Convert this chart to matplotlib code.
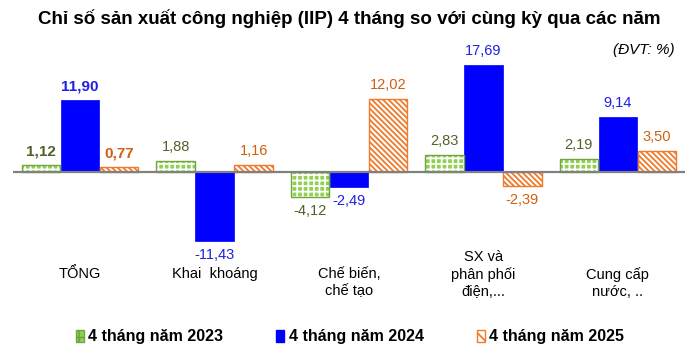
import matplotlib
matplotlib.use("Agg")
import matplotlib.pyplot as plt
from matplotlib.patches import Patch
from matplotlib import transforms
import numpy as np

# ---- data ----
categories = ["TỔNG", "Khai  khoáng", "Chế biến,\nchế tạo", "SX và\nphân phối\nđiện,...", "Cung cấp\nnước, .."]
series_names = ["4 tháng năm 2023", "4 tháng năm 2024", "4 tháng năm 2025"]
v2023 = [1.12, 1.88, -4.12, 2.83, 2.19]
v2024 = [11.90, -11.43, -2.49, 17.69, 9.14]
v2025 = [0.77, 1.16, 12.02, -2.39, 3.50]
title = "Chỉ số sản xuất công nghiệp (IIP) 4 tháng so với cùng kỳ qua các năm"
unit = "(ĐVT: %)"

# pixel y (from top) of first-line centre of each category label
label_first_y = [274, 274, 274, 257, 274]

plt.rcParams['font.family'] = ["Liberation Sans", "DejaVu Sans"]
plt.rcParams['hatch.linewidth'] = 1.3

W, H = 699, 361
fig = plt.figure(figsize=(W / 100, H / 100), dpi=100)
ax = fig.add_axes([13 / W, 0.289, 672 / W, 0.5446])
ax.set_xlim(-0.5, 4.5)
ax.set_ylim(-14, 18.5)
ax.axis('off')

x = np.arange(len(categories))
w = 0.285
off = 0.29

green_face = '#92D050'
green_edge = '#6FA640'
blue = '#0000FF'
orange = '#F07A2A'

# 2023: checker-like
ax.bar(x - off, v2023, w, color=green_face, edgecolor='white', hatch='+++', linewidth=0, zorder=2)
ax.bar(x - off, v2023, w, fill=False, edgecolor=green_edge, linewidth=1.0, zorder=3)
# 2024 solid
ax.bar(x, v2024, w, color=blue, edgecolor=blue, linewidth=0.5, zorder=2)
# 2025 stripes
ax.bar(x + off, v2025, w, color='white', edgecolor=orange, hatch='\\' * 6, linewidth=0, zorder=2)
ax.bar(x + off, v2025, w, fill=False, edgecolor=orange, linewidth=1.0, zorder=3)

ax.axhline(0, color='#808080', linewidth=1.6, zorder=4)

lbl_colors = ['#4F6228', '#1F1FE6', '#D0600F']
for s, (vals, dx) in enumerate([(v2023, -off), (v2024, 0), (v2025, off)]):
    for i, v in enumerate(vals):
        txt = f"{v:.2f}".replace('.', ',')
        bold = (i == 0)
        ax.annotate(txt, (x[i] + dx, v), xytext=(0, 5 if v >= 0 else -5),
                    textcoords='offset points', ha='center',
                    va='bottom' if v >= 0 else 'top',
                    fontsize=11 if bold else 10.5,
                    fontweight='bold' if bold else 'normal',
                    color=lbl_colors[s], zorder=5)

# category labels at group centres
tr = transforms.blended_transform_factory(ax.transData, fig.transFigure)
for xi, c, yc in zip(x, categories, label_first_y):
    ax.text(xi, (H - (yc - 7)) / H, c, transform=tr, ha='center', va='top',
            fontsize=10.5, color='black', linespacing=1.25)

fig.text(0.5, (H - 19) / H, title, ha='center', va='center', fontsize=13.5, fontweight='bold')
fig.text(675 / W, (H - 50) / H, unit, ha='right', va='center', fontsize=11, style='italic')

handles = [
    Patch(facecolor=green_face, edgecolor=green_edge, hatch='++'),
    Patch(facecolor=blue, edgecolor=blue),
    Patch(facecolor='white', edgecolor=orange, hatch='\\\\\\'),
]
fig.legend(handles, series_names, loc='center', bbox_to_anchor=(350 / W, (H - 337) / H),
           ncol=3, frameon=False, handlelength=0.5, handleheight=0.8, handletextpad=0.3,
           columnspacing=3.3, prop={'weight': 'bold', 'size': 11.5})

fig.savefig("out.png", dpi=100)
